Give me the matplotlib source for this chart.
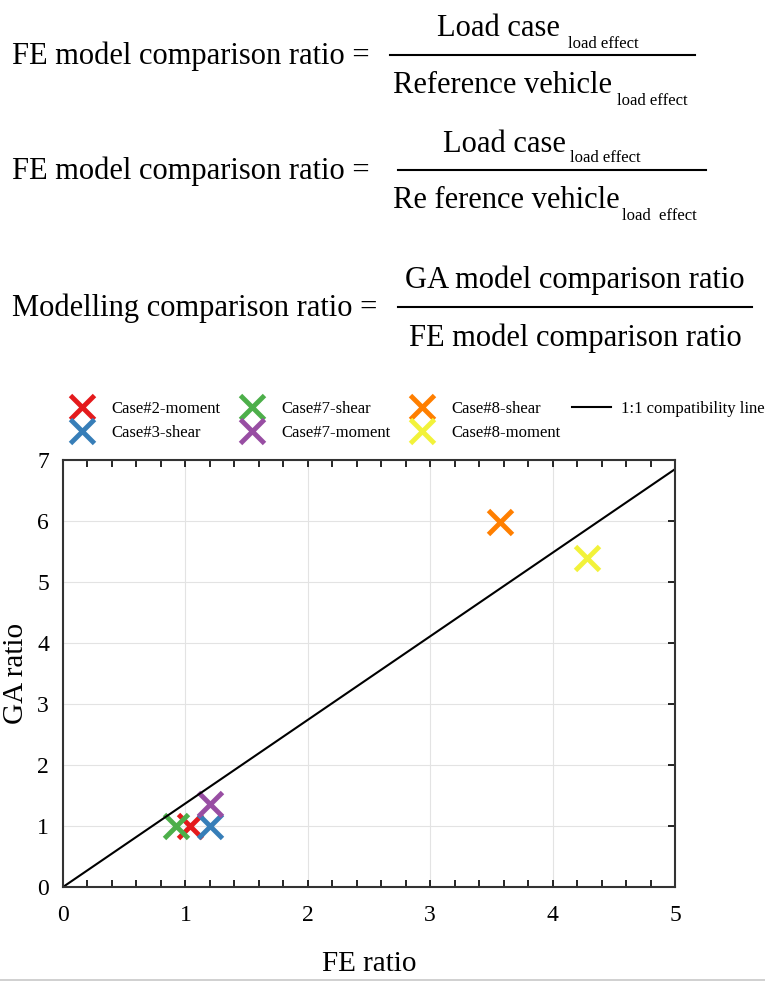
import numpy as np
import matplotlib
matplotlib.use("Agg")
from matplotlib import pyplot as plt
from matplotlib.lines import Line2D

plt.rcParams['font.family'] = ['Liberation Serif', 'DejaVu Serif']

# data
cases = ['Case#2-moment', 'Case#3-shear', 'Case#7-shear',
         'Case#7-moment', 'Case#8-shear', 'Case#8-moment']
fe_ratio = [1.04, 1.20, 0.92, 1.20, 3.57, 4.28]
ga_ratio = [1.00, 1.00, 1.00, 1.36, 5.98, 5.39]
colors = ['#e41a1c', '#377eb8', '#4daf4a', '#984ea3', '#ff7f00', '#f2f23a']
line_x = [0, 5]
line_y = [0, 6.85]

W, H = 765, 989
fig = plt.figure(figsize=(W / 100, H / 100), dpi=100)


def px(x, y):
    # pixel position (from top-left) -> figure fraction
    return x / W, 1 - y / H


def eq_text(x, y, s, size, ha='left'):
    fig.text(*px(x, y), s, fontsize=size, ha=ha, va='center')


def frac_line(x0, x1, y):
    fig.add_artist(Line2D([x0 / W, x1 / W], [1 - y / H, 1 - y / H],
                          color='black', lw=1.5))


# equation 1
eq_text(12, 56, 'FE model comparison ratio =', 22)
frac_line(390, 695, 55)
eq_text(437, 29, 'Load case', 22)
eq_text(568, 44, 'load effect', 12)
eq_text(393, 86, 'Reference vehicle', 22)
eq_text(617, 101, 'load effect', 12)

# equation 2
eq_text(12, 171, 'FE model comparison ratio =', 22)
frac_line(398, 706, 170)
eq_text(443, 144, 'Load case', 22)
eq_text(570, 158, 'load effect', 12)
eq_text(393, 201, 'Re ference vehicle', 22)
eq_text(622, 216, 'load  effect', 12)

# equation 3
eq_text(12, 308, 'Modelling comparison ratio =', 22)
frac_line(398, 752, 307)
eq_text(575, 280, 'GA model comparison ratio', 22, ha='center')
eq_text(575, 338, 'FE model comparison ratio', 22, ha='center')

# bottom separator
fig.add_artist(Line2D([0, 1], [1 - 980 / H] * 2, color='#c8c8c8', lw=1.2))

ax = fig.add_axes([63 / W, 1 - 887 / H, 612 / W, 427 / H])
for c, fx, gy, col in zip(cases, fe_ratio, ga_ratio, colors):
    ax.plot(fx, gy, marker='x', ls='none', ms=17, mew=3.5, color=col, label=c)
ax.plot(line_x, line_y, color='black', lw=1.5, label='1:1 compatibility line')

ax.set_xlim(0, 5)
ax.set_ylim(0, 7)
ax.set_xticks(np.arange(0, 6, 1))
ax.set_xticks(np.arange(0, 5.01, 0.2), minor=True)
ax.set_yticks(np.arange(0, 8, 1))
ax.grid(True, color='#e3e3e3', lw=0.8)
ax.set_axisbelow(True)
ax.tick_params(axis='x', which='both', direction='in', top=True, length=5,
               width=1.2, labelsize=17, pad=13)
ax.tick_params(axis='y', which='both', direction='in', left=False, right=True,
               length=5, width=1.2, labelsize=17, pad=10)
for s in ax.spines.values():
    s.set_color('#333333')
    s.set_linewidth(1.5)
ax.set_xlabel('FE ratio', fontsize=21, labelpad=18)
ax.set_ylabel('GA ratio', fontsize=21, labelpad=6)

ax.legend(loc='lower left', bbox_to_anchor=(0.0, 1.045), ncol=4, frameon=False,
          fontsize=12, handlelength=2.33, handletextpad=0.6, columnspacing=0.7,
          labelspacing=0.45, borderaxespad=0, borderpad=0)

fig.savefig('out.png', dpi=100)
